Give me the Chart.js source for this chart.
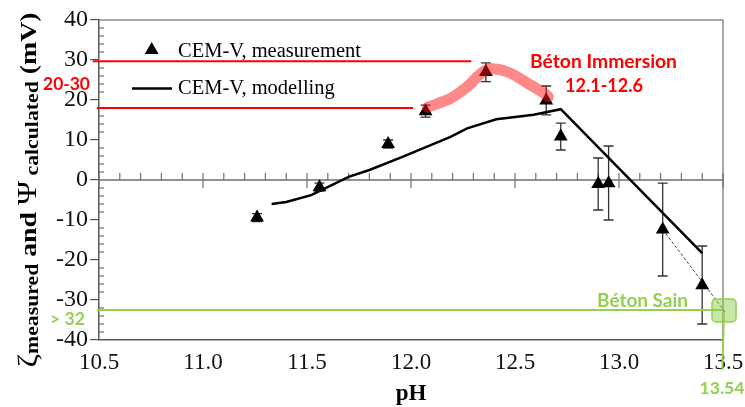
<!DOCTYPE html>
<html><head><meta charset="utf-8">
<script src="https://cdn.jsdelivr.net/npm/chart.js@4/dist/chart.umd.min.js"></script>
<style>html,body{margin:0;padding:0;background:#fff;}#wrap{width:745px;height:407px;position:relative;}</style>
</head><body><div id="wrap"><canvas id="c" width="745" height="407"></canvas></div>
<script>
// ---- data ----
const measPH   = [11.26, 11.56, 11.89, 12.07, 12.36, 12.65, 12.72, 12.90, 12.95, 13.21, 13.40];
const measVal  = [-9.4, -1.8, 9.0, 17.2, 27.0, 19.9, 10.9, -1.0, -0.8, -12.4, -26.3];
const errLow   = [-10.4, -2.8, 8.0, 15.7, 24.6, 16.3, 7.5, -7.5, -10.0, -24.0, -36.0];
const errHigh  = [-8.4, -0.8, 10.0, 18.7, 29.3, 23.5, 14.2, 5.5, 8.5, -0.8, -16.5];
const modelPH  = [11.33, 11.40, 11.52, 11.70, 11.80, 11.95, 12.19, 12.27, 12.41, 12.59, 12.72, 13.40];
const modelVal = [-6.0, -5.5, -3.8, 0.8, 2.5, 5.6, 10.8, 12.9, 15.2, 16.3, 17.7, -18.3];
const bandPH   = [12.08, 12.19, 12.27, 12.365, 12.46, 12.56, 12.64, 12.66];
const bandVal  = [18.2, 20.4, 23.3, 27.6, 27.1, 24.2, 21.7, 20.8];
const dashPH   = [13.21, 13.51];
const dashVal  = [-12.4, -33.0];
const redLineVal   = [29.7, 18.0];
const redLineStart = [10.47, 10.49];
const redLineEnd   = [12.29, 12.01];
const sainVal = -32.5;
const sainLineStart = 10.49;
const sainPH = 13.505;
const sainDropPH = [13.505, 13.497];
const sainDropVal = [-32.6, -47.5];
const xTicks = [10.5, 11.0, 11.5, 12.0, 12.5, 13.0, 13.5];
const yTicks = [-40, -30, -20, -10, 0, 10, 20, 30, 40];

const pts = (xs, ys) => xs.map((x, i) => ({x, y: ys[i]}));
const SERIF = '"Liberation Serif", "Times New Roman", serif';
const SANS = 'Lato, "Open Sans", sans-serif';
const RED = '#ff0000', GREEN = '#92d050';

const datasets = [
  {label: 'band', data: pts(bandPH, bandVal), showLine: true, borderColor: 'rgba(255,20,20,0.5)', borderWidth: 11,
   borderCapStyle: 'round', tension: 0.35, pointRadius: 0, order: 0},
  {label: 'CEM-V, measurement', data: pts(measPH, measVal), pointStyle: 'triangle', pointRadius: 8,
   backgroundColor: '#000', borderColor: '#000', borderWidth: 0, showLine: false, order: 1},
  {label: 'CEM-V, modelling', data: pts(modelPH, modelVal), showLine: true, borderColor: '#000', borderWidth: 2.5,
   pointRadius: 0, tension: 0, order: 2},
  {label: 'dash', data: pts(dashPH, dashVal), showLine: true, borderColor: '#444', borderWidth: 1,
   borderDash: [3, 2], pointRadius: 0, order: 3, clip: false},
];
redLineVal.forEach((v, i) => datasets.push({label: 'red' + i,
  data: [{x: redLineStart[i], y: v}, {x: redLineEnd[i], y: v}], showLine: true, borderColor: RED,
  borderWidth: 2, pointRadius: 0, order: 4, clip: false}));
datasets.push({label: 'sain', data: [{x: sainLineStart, y: sainVal}, {x: sainPH, y: sainVal}], showLine: true,
  borderColor: GREEN, borderWidth: 2, pointRadius: 0, order: 4, clip: false});
datasets.push({label: 'sainDrop', data: pts(sainDropPH, sainDropVal), showLine: true,
  borderColor: GREEN, borderWidth: 2, pointRadius: 0, order: 4, clip: false});

function fitText(ctx, text, weight, family, targetW, cx, cy, color) {
  ctx.font = `${weight} 100px ${family}`;
  const w = ctx.measureText(text).width;
  const size = 100 * targetW / w;
  ctx.font = `${weight} ${size}px ${family}`;
  ctx.fillStyle = color; ctx.textAlign = 'center'; ctx.textBaseline = 'middle';
  ctx.fillText(text, cx, cy);
}

const decor = {
  id: 'decor',
  beforeDatasetsDraw(chart) {
    const {ctx, chartArea: a, scales: {x, y}} = chart;
    ctx.save();
    ctx.strokeStyle = '#8c8c8c'; ctx.lineWidth = 1.5;
    ctx.beginPath(); ctx.moveTo(a.left, a.top); ctx.lineTo(a.right, a.top); ctx.lineTo(a.right, a.bottom); ctx.stroke();
    const y0 = y.getPixelForValue(0);
    ctx.strokeStyle = '#6e6e6e'; ctx.lineWidth = 1.5;
    ctx.beginPath(); ctx.moveTo(a.left, y0); ctx.lineTo(a.right, y0); ctx.stroke();
    ctx.lineWidth = 1.2;
    for (let k = 0; k <= 30; k++) {
      const px = x.getPixelForValue(10.5 + k * 0.1);
      ctx.beginPath();
      if (k % 5 === 0) { ctx.moveTo(px, y0 - 7); ctx.lineTo(px, y0 + 8); }
      else { ctx.moveTo(px, y0 - 7); ctx.lineTo(px, y0); }
      ctx.stroke();
    }
    for (let v = -40; v <= 40; v += 2) {
      if (v % 10 === 0) continue;
      const py = y.getPixelForValue(v);
      ctx.beginPath(); ctx.moveTo(a.left, py); ctx.lineTo(a.left + 5, py); ctx.stroke();
    }
    ctx.strokeStyle = '#333'; ctx.lineWidth = 1.3;
    measPH.forEach((p, i) => {
      const px = x.getPixelForValue(p);
      const t = y.getPixelForValue(errHigh[i]), b = y.getPixelForValue(errLow[i]);
      ctx.beginPath();
      ctx.moveTo(px, t); ctx.lineTo(px, b);
      ctx.moveTo(px - 5, t); ctx.lineTo(px + 5, t);
      ctx.moveTo(px - 5, b); ctx.lineTo(px + 5, b);
      ctx.stroke();
    });
    ctx.restore();
  },
  afterDatasetsDraw(chart) {
    const {ctx, scales: {x, y}} = chart;
    ctx.save();
    const sx = x.getPixelForValue(sainPH), sy = y.getPixelForValue(-32.6);
    ctx.fillStyle = 'rgba(146,208,80,0.5)'; ctx.strokeStyle = GREEN; ctx.lineWidth = 1.5;
    ctx.beginPath(); ctx.roundRect(sx - 12, sy - 11.5, 24, 23, 4); ctx.fill(); ctx.stroke();
    fitText(ctx, 'Béton Immersion', 'bold', SANS, 147, 603.5, 62, RED);
    fitText(ctx, '12.1-12.6', 'bold', SANS, 78, 604, 86, RED);
    fitText(ctx, '20-30', 'bold', SANS, 47, 66.5, 84, RED);
    fitText(ctx, '> 32', 'bold', SANS, 35, 67.5, 319, GREEN);
    fitText(ctx, 'Béton Sain', 'bold', SANS, 91, 642.5, 301, GREEN);
    fitText(ctx, '13.54', 'bold', SANS, 45, 722, 388, GREEN);
    ctx.fillStyle = '#000';
    const r = 8, lx = 151.7, ly = 52 - 2;
    ctx.beginPath();
    ctx.moveTo(lx, ly - r); ctx.lineTo(lx + r * Math.sin(2 * Math.PI / 3), ly - r * Math.cos(2 * Math.PI / 3));
    ctx.lineTo(lx + r * Math.sin(4 * Math.PI / 3), ly - r * Math.cos(4 * Math.PI / 3)); ctx.closePath(); ctx.fill();
    ctx.strokeStyle = '#000'; ctx.lineWidth = 2.5;
    ctx.beginPath(); ctx.moveTo(132, 88.5); ctx.lineTo(172, 88.5); ctx.stroke();
    ctx.font = `20.5px ${SERIF}`; ctx.textAlign = 'left'; ctx.textBaseline = 'middle'; ctx.fillStyle = '#000';
    ctx.fillText('CEM-V, measurement', 178, 52);
    ctx.fillText('CEM-V, modelling', 178, 89);
    ctx.font = `bold 23px ${SERIF}`; ctx.textAlign = 'center'; ctx.textBaseline = 'middle';
    ctx.fillText('pH', 411, 394);
    const parts = [
      {t: 'ζ', f: `27px ${SERIF}`, dy: 1},
      {t: 'measured', f: `bold 18px ${SERIF}`, dy: 2},
      {t: ' and ', f: `bold 23px ${SERIF}`, dy: 0},
      {t: 'Ψ', f: `27px ${SERIF}`, dy: 0},
      {t: ' calculated', f: `bold 18px ${SERIF}`, dy: 2},
      {t: ' (mV)', f: `bold 23px ${SERIF}`, dy: 0},
    ];
    let total = 0;
    parts.forEach(p => { ctx.font = p.f; p.w = ctx.measureText(p.t).width; total += p.w; });
    ctx.translate(36, 190); ctx.rotate(-Math.PI / 2);
    ctx.scale(355 / total, 1);
    ctx.textAlign = 'left'; ctx.textBaseline = 'alphabetic';
    let cx = -total / 2;
    parts.forEach(p => { ctx.font = p.f; ctx.fillText(p.t, cx, p.dy); cx += p.w; });
    ctx.restore();
  }
};

new Chart(document.getElementById('c'), {
  type: 'scatter',
  data: {datasets},
  options: {
    responsive: false, animation: false, devicePixelRatio: 1,
    layout: {padding: {top: 20, right: 22, left: 0, bottom: 0}},
    plugins: {legend: {display: false}, tooltip: {enabled: false}},
    scales: {
      x: {type: 'linear', min: 10.5, max: 13.5,
        afterBuildTicks: s => { s.ticks = xTicks.map(v => ({value: v})); },
        afterFit: s => { s.height = 67; s.paddingLeft = 0; s.paddingRight = 0; },
        ticks: {callback: v => Number(v).toFixed(1), font: {family: SERIF, size: 23}, color: '#111', padding: 9, maxRotation: 0},
        grid: {display: false, drawTicks: false},
        border: {display: true, color: '#595959', width: 1.5}},
      y: {min: -40, max: 40,
        afterBuildTicks: s => { s.ticks = yTicks.map(v => ({value: v})); },
        afterFit: s => { s.width = 99; s.paddingTop = 0; s.paddingBottom = 0; },
        ticks: {font: {family: SERIF, size: 24}, color: '#111', padding: 2},
        grid: {display: true, drawOnChartArea: false, drawTicks: true, tickLength: 9, color: '#595959', lineWidth: 1.2},
        border: {display: true, color: '#595959', width: 1.5}}
    }
  },
  plugins: [decor]
});
</script></body></html>
